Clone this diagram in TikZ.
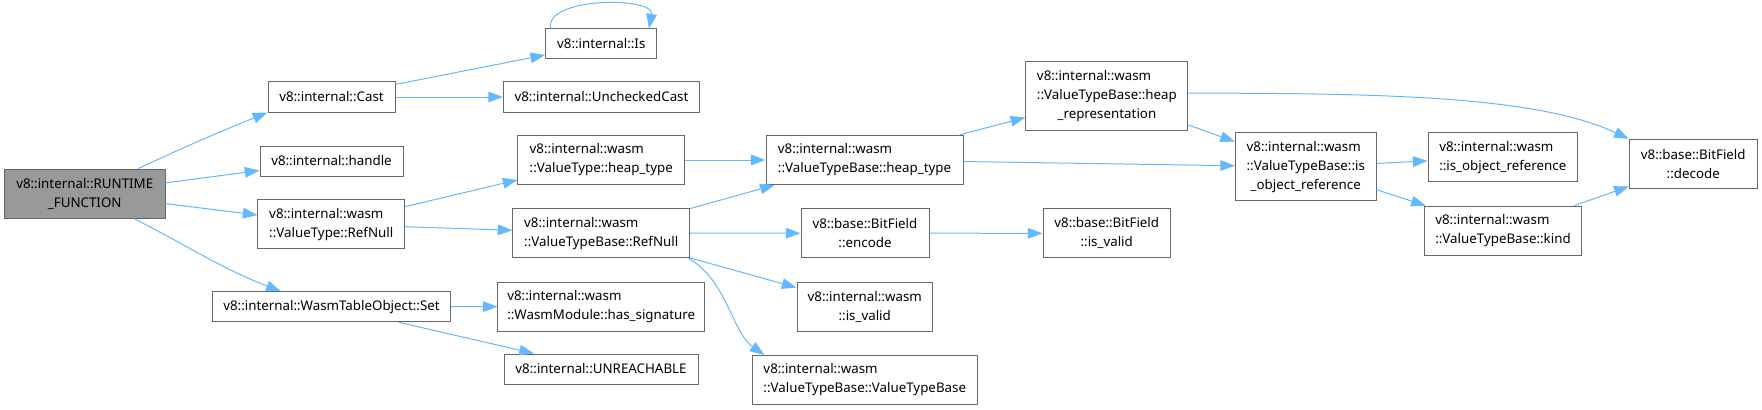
\documentclass[tikz,border=0pt]{standalone}
\usepackage{fontspec}
\setmainfont{Noto Sans}
\usetikzlibrary{arrows.meta}
\definecolor{callblue}{HTML}{63B8FF}
\definecolor{callboxborder}{HTML}{666666}
\definecolor{callroot}{HTML}{999999}

\begin{document}
\begin{tikzpicture}[x=0.75pt, y=0.75pt,
      box/.style={draw=callboxborder, line width=0.75pt, align=center,
        inner xsep=3pt, inner ysep=2pt, minimum height=22.5pt,
        font=\fontsize{10pt}{14.25pt}\selectfont},
      lbox/.style={box, align=left},
      tall/.style={minimum height=36.75pt},
      taller/.style={minimum height=51pt},
      call/.style={->, draw=callblue, line width=0.75pt},
      >={Triangle[length=11pt, width=8pt]}
    ]
      \useasboundingbox (0,0) rectangle (1762,-410);
      % caller
      \node[box, tall, fill=callroot, minimum width=120.4pt] (rf) at (84.75,-193.5)
        {v8::internal::RUNTIME\\\_FUNCTION};
      % first level
      \node[box, minimum width=95.25pt] (cast) at (331.5,-97) {v8::internal::Cast};
      \node[box, minimum width=107.25pt] (handle) at (331.5,-161) {v8::internal::handle};
      \node[lbox, tall, minimum width=109.9pt] (vtrefnull) at (331.25,-224.25)
        {v8::internal::wasm\\::ValueType::RefNull};
      \node[box, minimum width=178.5pt] (set) at (331.5,-306.75)
        {v8::internal::WasmTableObject::Set};
      % second level
      \node[box, minimum width=83.6pt] (is) at (601.25,-44) {v8::internal::Is};
      \node[box, minimum width=147pt] (unchecked) at (601.5,-97)
        {v8::internal::UncheckedCast};
      \node[lbox, tall, minimum width=124.9pt] (vtheap) at (601.25,-160)
        {v8::internal::wasm\\::ValueType::heap\_type};
      \node[lbox, tall, minimum width=132.4pt] (vtbrefnull) at (601.25,-233.25)
        {v8::internal::wasm\\::ValueTypeBase::RefNull};
      \node[lbox, tall, minimum width=154.9pt] (hassig) at (601.25,-306.5)
        {v8::internal::wasm\\::WasmModule::has\_signature};
      \node[box, minimum width=145.5pt] (unreach) at (601,-369)
        {v8::internal::UNREACHABLE};
      % third level
      \node[lbox, tall, minimum width=147.75pt] (vtbheap) at (864.5,-160)
        {v8::internal::wasm\\::ValueTypeBase::heap\_type};
      \node[box, tall, minimum width=96pt] (encode) at (865,-233.2)
        {v8::base::BitField\\::encode};
      \node[box, tall, minimum width=101.6pt] (wisvalid) at (864.75,-306.5)
        {v8::internal::wasm\\::is\_valid};
      \node[lbox, tall, minimum width=169.1pt] (vtbctor) at (864.75,-380)
        {v8::internal::wasm\\::ValueTypeBase::ValueTypeBase};
      % further levels
      \node[box, taller, minimum width=121.6pt] (heaprep) at (1106.9,-96)
        {\rlap{v8::internal::wasm}\phantom{::ValueTypeBase::heap}\\::ValueTypeBase::heap\\\_representation};
      \node[box, tall, minimum width=95.6pt] (bfisvalid) at (1106.75,-233.3)
        {v8::base::BitField\\::is\_valid};
      \node[box, taller, minimum width=105.4pt] (vtbisobj) at (1305.75,-166.85)
        {\rlap{v8::internal::wasm}\phantom{::ValueTypeBase::is}\\::ValueTypeBase::is\\\_object\_reference};
      \node[lbox, tall, minimum width=112.1pt] (isobj) at (1502.75,-157.25)
        {v8::internal::wasm\\::is\_object\_reference};
      \node[lbox, tall, minimum width=118pt] (kind) at (1503,-230.7)
        {v8::internal::wasm\\::ValueTypeBase::kind};
      \node[box, tall, minimum width=96pt] (decode) at (1693.25,-163.8)
        {v8::base::BitField\\::decode};
      % calls
      \draw[call] (rf.25) to[out=25, in=202] (cast.south west);
      \draw[call] (rf) -- (handle);
      \draw[call] (rf) -- (vtrefnull);
      \draw[call] (rf.-27) to[out=-27, in=159] (set.163);
      \draw[call] (cast) -- (is);
      \draw[call] (cast) -- (unchecked);
      \draw[call] (is.163) .. controls +(-6,32) and +(6,32) .. (is.18);
      \draw[call] (vtrefnull) -- (vtheap);
      \draw[call] (vtrefnull) -- (vtbrefnull);
      \draw[call] (set) -- (hassig);
      \draw[call] (set) -- (unreach);
      \draw[call] (vtheap) -- (vtbheap);
      \draw[call] (vtbrefnull) -- (vtbheap);
      \draw[call] (vtbrefnull) -- (encode);
      \draw[call] (vtbrefnull) -- (wisvalid);
      \draw[call] (vtbrefnull.-16) .. controls +(-30:45) and +(145:40) .. (vtbctor.166);
      \draw[call] (vtbheap) -- (heaprep);
      \draw[call] (vtbheap) -- (vtbisobj);
      \draw[call] (heaprep) -- (vtbisobj);
      \draw[call] (heaprep.2) .. controls +(200,0) and +(155:100) .. (decode.north west);
      \draw[call] (encode) -- (bfisvalid);
      \draw[call] (vtbisobj) -- (isobj);
      \draw[call] (vtbisobj) -- (kind);
      \draw[call] (kind) -- (decode);
    \end{tikzpicture}
\end{document}
